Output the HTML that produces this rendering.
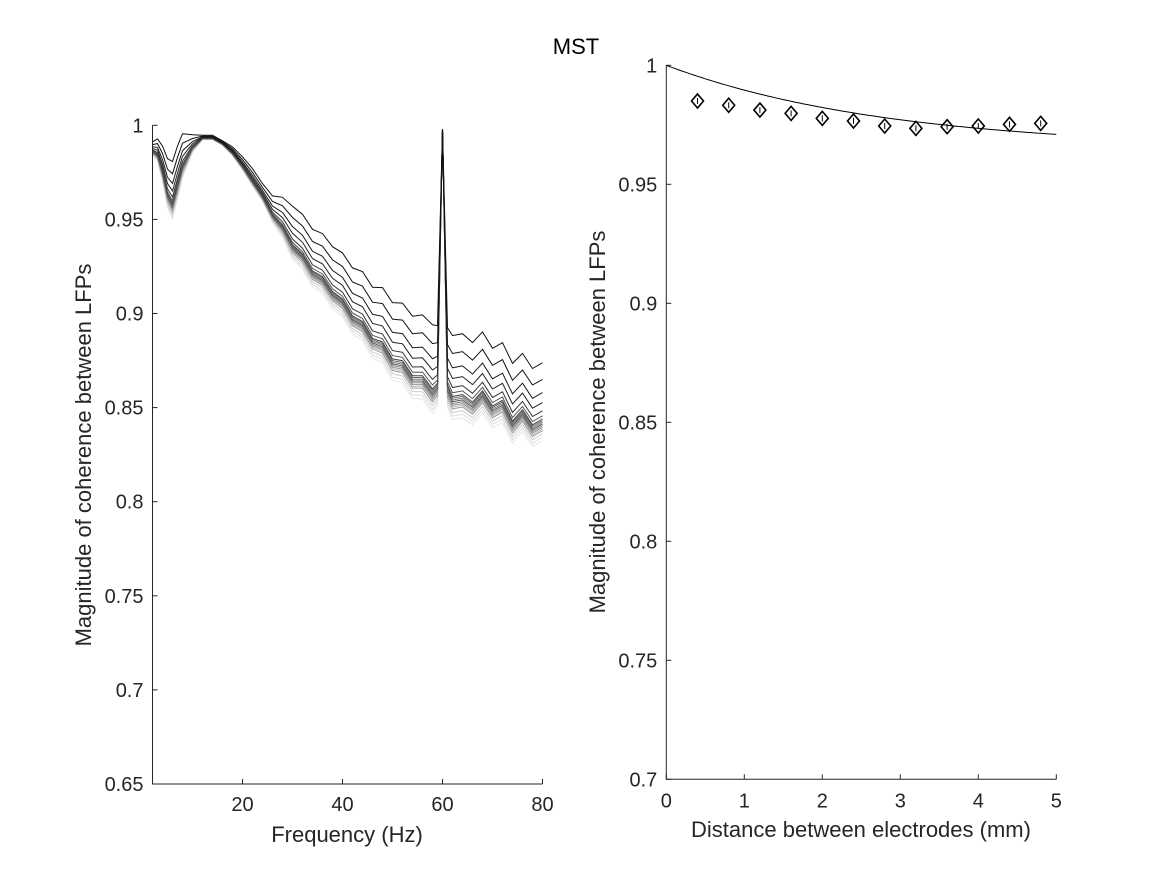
<!DOCTYPE html>
<html><head><meta charset="utf-8"><style>
body{margin:0;background:#fff}
svg{display:block;font-family:"Liberation Sans",Arial,sans-serif}
</style></head><body>
<svg id="fig" width="1167" height="875" xmlns="http://www.w3.org/2000/svg">
<rect width="1167" height="875" fill="#fff"/>
<text x="576" y="54" font-size="22" text-anchor="middle">MST</text>
<g id="left"></g>
<g id="right"></g>
</svg>
<script>
// ---- Left panel data ----
const freqs = [2,3,4,5,6,7,8,10,12,14,16,18,20,22,24,26,28,30,32,34,36,38,40,42,44,46,48,50,52,54,56,58,59,60,61,62,64,66,68,70,72,74,76,78,80];
const baseCoh = [0.986,0.984,0.975,0.963,0.958,0.968,0.978,0.988,0.993,0.993,0.990,0.985,0.978,0.970,0.962,0.952,0.946,0.936,0.931,0.922,0.919,0.911,0.907,0.898,0.895,0.886,0.884,0.875,0.874,0.866,0.866,0.859,0.862,0.998,0.861,0.855,0.856,0.852,0.858,0.850,0.853,0.842,0.848,0.840,0.843];
const envelope = [0.15,0.25,0.4,0.55,0.65,0.6,0.5,0.2,0.05,0.05,0.05,0.1,0.15,0.2,0.2,0.3,0.45,0.6,0.62,0.65,0.67,0.7,0.72,0.75,0.78,0.8,0.85,0.88,0.9,0.93,0.95,1,0.9,0,0.9,0.95,0.95,0.93,0.92,0.9,0.9,0.9,0.88,0.88,0.88];
const lineOffsets = [0.035,0.025,0.017,0.011,0.006,0.003,0.001,0,-0.001,-0.002,-0.003,-0.004,-0.004,-0.005,-0.006,-0.008,-0.010,-0.012];
const lineGrays = ["#111","#111","#1a1a1a","#222","#333","#555","#444","#666","#777","#555","#888","#999","#aaa","#bbb","#999","#ccc","#ddd","#e6e6e6"];
const leftYTicks = [0.65,0.7,0.75,0.8,0.85,0.9,0.95,1];
const leftYLabels = ["0.65","0.7","0.75","0.8","0.85","0.9","0.95","1"];
const leftXTicks = [20,40,60,80];
// ---- Right panel data ----
const distances = [0.4,0.8,1.2,1.6,2.0,2.4,2.8,3.2,3.6,4.0,4.4,4.8];
const meanCoh = [0.985,0.9832,0.9812,0.9798,0.9777,0.9766,0.9745,0.9735,0.9742,0.9745,0.9752,0.9756];
const fitParams = [0.965,0.035,2.83]; // c, a, L : y = c + a*exp(-x/L)
const rightYTicks = [0.7,0.75,0.8,0.85,0.9,0.95,1];
const rightYLabels = ["0.7","0.75","0.8","0.85","0.9","0.95","1"];
const rightXTicks = [0,1,2,3,4,5];

const NS="http://www.w3.org/2000/svg";
function mk(tag,attrs,parent){const e=document.createElementNS(NS,tag);for(const k in attrs)e.setAttribute(k,attrs[k]);parent.appendChild(e);return e;}

// Left axes
const L={x0:152.5,x1:542.5,y0:784,y1:125.3,xmin:2,xmax:80,ymin:0.65,ymax:1};
const lx=v=>L.x0+(v-L.xmin)/(L.xmax-L.xmin)*(L.x1-L.x0);
const ly=v=>L.y0-(v-L.ymin)/(L.ymax-L.ymin)*(L.y0-L.y1);
const gl=document.getElementById('left');
for(let i=lineOffsets.length-1;i>=0;i--){
  let d="";
  freqs.forEach((f,j)=>{const v=baseCoh[j]+lineOffsets[i]*envelope[j];d+=(j?"L":"M")+lx(f).toFixed(1)+","+ly(v).toFixed(1);});
  const p=mk('path',{d:d,fill:"none",stroke:lineGrays[i],"stroke-width":1},gl);
  
  
}
let ax=mk('path',{d:`M${L.x0},${L.y1}V${L.y0}H${L.x1}`,fill:"none",stroke:"#262626","stroke-width":1},gl);


leftYTicks.forEach((v,i)=>{
  mk('line',{x1:L.x0,x2:L.x0+5,y1:ly(v),y2:ly(v),stroke:"#262626"},gl);
  const t=mk('text',{x:L.x0-9,y:ly(v)+7,"font-size":20,"text-anchor":"end",fill:"#262626"},gl);t.textContent=leftYLabels[i];
  
  
});
leftXTicks.forEach(v=>{
  mk('line',{x1:lx(v),x2:lx(v),y1:L.y0,y2:L.y0-5,stroke:"#262626"},gl);
  const t=mk('text',{x:lx(v),y:L.y0+27,"font-size":20,"text-anchor":"middle",fill:"#262626"},gl);t.textContent=v;
  
  
});
let t=mk('text',{x:347,y:842,"font-size":22,"text-anchor":"middle",fill:"#262626"},gl);t.textContent="Frequency (Hz)";


t=mk('text',{x:0,y:0,"font-size":22,"text-anchor":"middle",fill:"#262626",transform:"translate(91,455) rotate(-90)"},gl);t.textContent="Magnitude of coherence between LFPs";



// Right axes
const R={x0:666.3,x1:1056.3,y0:779.3,y1:65.3,xmin:0,xmax:5,ymin:0.7,ymax:1};
const rx=v=>R.x0+(v-R.xmin)/(R.xmax-R.xmin)*(R.x1-R.x0);
const ry=v=>R.y0-(v-R.ymin)/(R.ymax-R.ymin)*(R.y0-R.y1);
const gr=document.getElementById('right');
ax=mk('path',{d:`M${R.x0},${R.y1}V${R.y0}H${R.x1}`,fill:"none",stroke:"#262626","stroke-width":1},gr);


rightYTicks.forEach((v,i)=>{
  mk('line',{x1:R.x0,x2:R.x0+5,y1:ry(v),y2:ry(v),stroke:"#262626"},gr);
  const t=mk('text',{x:R.x0-9,y:ry(v)+7,"font-size":20,"text-anchor":"end",fill:"#262626"},gr);t.textContent=rightYLabels[i];
  
  
});
rightXTicks.forEach(v=>{
  mk('line',{x1:rx(v),x2:rx(v),y1:R.y0,y2:R.y0-5,stroke:"#262626"},gr);
  const t=mk('text',{x:rx(v),y:R.y0+28,"font-size":20,"text-anchor":"middle",fill:"#262626"},gr);t.textContent=v;
  
  
});
let fd="";
for(let k=0;k<=100;k++){const x=k*0.05;const y=fitParams[0]+fitParams[1]*Math.exp(-x/fitParams[2]);fd+=(k?"L":"M")+rx(x).toFixed(1)+","+ry(y).toFixed(1);}
const fit=mk('path',{d:fd,fill:"none",stroke:"#000","stroke-width":1},gr);


distances.forEach((d,i)=>{
  const cx=rx(d),cy=ry(meanCoh[i]);
  const g=mk('g',{},gr);
  
  
  mk('path',{d:`M${cx},${cy-7}L${cx+6},${cy}L${cx},${cy+7}L${cx-6},${cy}Z`,fill:"none",stroke:"#000","stroke-width":1.6},g);
  mk('line',{x1:cx,x2:cx,y1:cy-3,y2:cy+3,stroke:"#000","stroke-width":1},g);
});
t=mk('text',{x:861,y:837,"font-size":22,"text-anchor":"middle",fill:"#262626"},gr);t.textContent="Distance between electrodes (mm)";


t=mk('text',{x:0,y:0,"font-size":22,"text-anchor":"middle",fill:"#262626",transform:"translate(605,422) rotate(-90)"},gr);t.textContent="Magnitude of coherence between LFPs";


</script>
</body></html>
